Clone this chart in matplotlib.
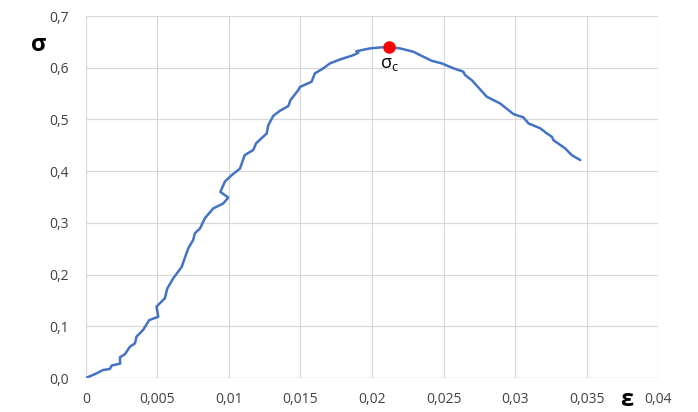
import matplotlib.pyplot as plt
from matplotlib.ticker import FuncFormatter, MultipleLocator

# strain / stress readings along the curve
strain = [0, 0.00075, 0.00121, 0.00168, 0.0018, 0.00226, 0.0024, 0.00238, 0.00273,
          0.00308, 0.00343, 0.00354, 0.0040, 0.00443, 0.00506, 0.00494, 0.00517,
          0.00552, 0.00569, 0.0061, 0.0067, 0.0069, 0.00716, 0.0075, 0.00762,
          0.00797, 0.00832, 0.0089, 0.0096, 0.00995, 0.0094, 0.00972, 0.0102,
          0.01077, 0.0111, 0.0117, 0.0119, 0.01264, 0.01275, 0.0131, 0.01357,
          0.01415, 0.0143, 0.01485, 0.01497, 0.01578, 0.0160, 0.0166, 0.01706,
          0.01776, 0.0187, 0.01904, 0.0189, 0.01986, 0.02068, 0.0212, 0.02196,
          0.02289, 0.02336, 0.02417, 0.02487, 0.02569, 0.02638, 0.0265, 0.02697,
          0.02802, 0.02895, 0.02988, 0.03058, 0.03093, 0.03175, 0.03222, 0.03257,
          0.03268, 0.0335, 0.03396, 0.03455]
stress = [0, 0.009, 0.0155, 0.0174, 0.024, 0.027, 0.028, 0.040, 0.046,
          0.0605, 0.067, 0.080, 0.093, 0.112, 0.1185, 0.138, 0.1445,
          0.154, 0.173, 0.1925, 0.215, 0.231, 0.251, 0.267, 0.280,
          0.289, 0.309, 0.328, 0.3375, 0.349, 0.360, 0.380, 0.3925,
          0.405, 0.431, 0.441, 0.454, 0.473, 0.489, 0.507, 0.517,
          0.526, 0.5375, 0.557, 0.563, 0.573, 0.589, 0.599, 0.6085,
          0.616, 0.6245, 0.629, 0.632, 0.6375, 0.6395, 0.640, 0.6375,
          0.631, 0.6245, 0.6135, 0.6085, 0.599, 0.5925, 0.586, 0.576,
          0.544, 0.531, 0.5105, 0.504, 0.4925, 0.483, 0.473, 0.4665,
          0.460, 0.444, 0.431, 0.4215]

# peak stress point
peak_strain = 0.0212
peak_stress = 0.640

plt.rcParams['font.family'] = ['Open Sans', 'DejaVu Sans']

fig = plt.figure(figsize=(6.98, 4.12), dpi=100)
ax = fig.add_axes([0.123, 0.0825, 0.820, 0.8785])

ax.plot(strain, stress, color="#4472C4", linewidth=1.8,
        solid_joinstyle="round", solid_capstyle="round")
ax.plot(peak_strain, peak_stress, "o", color="#FF0000", markersize=8, zorder=3)
ax.text(peak_strain, peak_stress - 0.015, r"$\mathregular{\sigma_c}$",
        ha="center", va="top", fontsize=13, color="black")

ax.set_xlim(0, 0.04)
ax.set_ylim(0, 0.7)
ax.xaxis.set_major_locator(MultipleLocator(0.005))
ax.yaxis.set_major_locator(MultipleLocator(0.1))


def comma_x(v, pos):
    s = f"{v:.3f}".rstrip("0").rstrip(".")
    return s.replace(".", ",")


ax.xaxis.set_major_formatter(FuncFormatter(comma_x))
ax.yaxis.set_major_formatter(FuncFormatter(lambda v, pos: f"{v:.1f}".replace(".", ",")))

ax.grid(True, color="#D9D9D9", linewidth=0.9)
ax.set_axisbelow(True)
for side in ax.spines.values():
    side.set_visible(False)
ax.axhline(0, color="#D9D9D9", linewidth=0.9, zorder=0)
ax.tick_params(length=0, labelsize=10, colors="#404040", pad=10)
ax.tick_params(axis="y", pad=12)

# axis symbols sit outside the plot area
fig.text(0.055, 0.89, "σ", fontsize=17, fontweight="bold", ha="center", va="center")
fig.text(0.898, 0.001, "ε", fontsize=17, fontweight="bold", ha="center", va="bottom")

fig.savefig("out.png", dpi=100)
